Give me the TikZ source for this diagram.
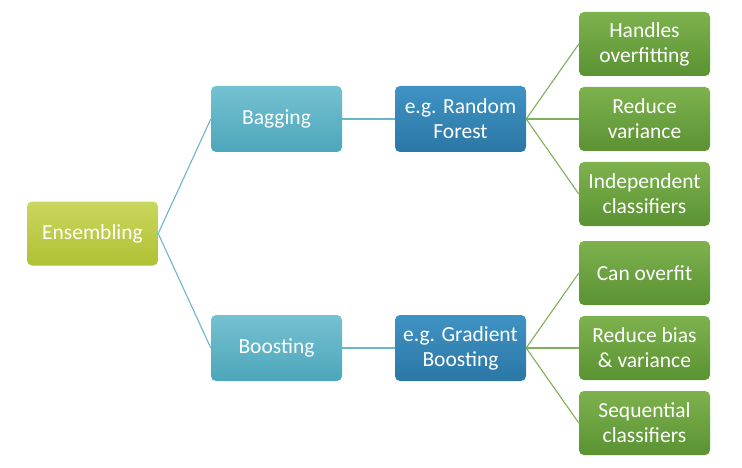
\documentclass[tikz,border=0pt]{standalone}
\usepackage{fontspec}
\setmainfont{Carlito}
\usepackage{xcolor}
\usepackage{tikz}
\usetikzlibrary{shapes}
\usetikzlibrary{arrows}
\definecolor{enstop}{HTML}{CAD65E}
\definecolor{ensbot}{HTML}{AFC135}
\definecolor{bagtop}{HTML}{74C1D1}
\definecolor{bagbot}{HTML}{4DA6BA}
\definecolor{algotop}{HTML}{3F93C3}
\definecolor{algobot}{HTML}{2B77A6}
\definecolor{leaftop}{HTML}{7DB24E}
\definecolor{leafbot}{HTML}{5B9232}
\definecolor{tealline}{HTML}{6CB6CC}
\definecolor{leafline}{HTML}{7FAF5A}
\tikzset{
	main node/.style={rectangle,rounded corners=5pt,minimum width=131pt,minimum height=64pt,
		align=center,text=white,inner sep=2pt,font=\fontsize{21.5}{25}\selectfont},
	root node/.style={main node,top color=enstop,bottom color=ensbot},
	bag node/.style={main node,minimum height=66pt,top color=bagtop,bottom color=bagbot},
	algo node/.style={main node,minimum height=66pt,top color=algotop,bottom color=algobot},
	leaf node/.style={main node,top color=leaftop,bottom color=leafbot}
}

\begin{document}
\begin{tikzpicture}[x=1pt,y=-1pt,grow'=right,parent anchor=east,child anchor=west,
	    level distance=184pt,
	    edge from parent/.style={draw=tealline,line width=1.1pt},
	    level 1/.style={sibling distance=229pt},
	    level 3/.style={sibling distance=75pt,edge from parent/.style={draw=leafline,line width=1.1pt}}]
	    \useasboundingbox (0,0) rectangle (742,468);
	    \node [root node] (1) at (92.5,233.5) {Ensembling}
	      child {node [bag node] (2) {Bagging}
	        child {node [algo node] (3) {e.g. Random\\Forest}
	      		child {node [leaf node] (4) {Handles\\overfitting}}
	      		child {node [leaf node] (5) {Reduce\\variance}}
	      		child {node [leaf node] (6) {Independent\\classifiers}}
					}
				}
	      child {node [bag node] (7) {Boosting}
	        child {node [algo node] (8) {e.g. Gradient\\Boosting}
	      		child {node [leaf node] (9) {Can overfit}}
	      		child {node [leaf node] (10) {Reduce bias\\\& variance}}
	      		child {node [leaf node] (11) {Sequential\\classifiers}}
					}
	      };
	  \end{tikzpicture}
\end{document}
